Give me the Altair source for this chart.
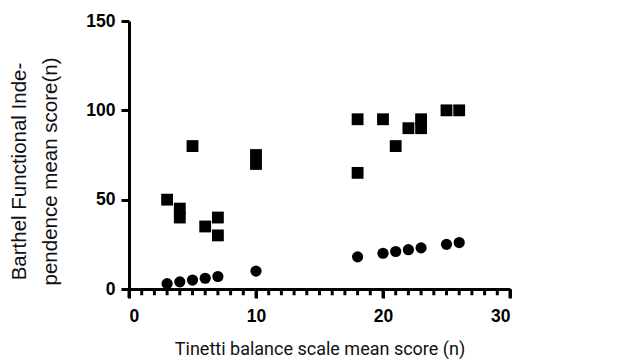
import altair as alt
import pandas as pd

# Barthel Functional Independence (squares)
barthel_x = [3, 4, 4, 5, 6, 7, 7, 10, 10, 18, 18, 20, 21, 22, 23, 23, 25, 26]
barthel_y = [50, 45, 40, 80, 35, 40, 30, 75, 70, 95, 65, 95, 80, 90, 95, 90, 100, 100]

# Tinetti balance (circles)
tinetti_x = [3, 4, 5, 6, 7, 10, 18, 20, 21, 22, 23, 25, 26]
tinetti_y = [3, 4, 5, 6, 7, 10, 18, 20, 21, 22, 23, 25, 26]

x_major = [0, 10, 20, 30]
x_minor = list(range(0, 31))
y_ticks = [0, 50, 100, 150]

df = pd.concat([
    pd.DataFrame({"x": barthel_x, "y": barthel_y, "series": "Barthel"}),
    pd.DataFrame({"x": tinetti_x, "y": tinetti_y, "series": "Tinetti"}),
], ignore_index=True)
minor_df = pd.DataFrame({"x": x_minor,
                         "len": [-5.0 if v % 10 == 0 else -3.5 for v in x_minor]})

xscale = alt.Scale(domain=[0, 30], nice=False)
yscale = alt.Scale(domain=[0, 150], nice=False, clamp=False)

points = alt.Chart(df).mark_point(filled=True, opacity=1, color="black").encode(
    x=alt.X("x:Q", scale=xscale,
            axis=alt.Axis(values=x_major,
                          title="Tinetti balance scale mean score (n)",
                          tickSize=9, labelPadding=9,
                          titleY=51, titleBaseline="top",
                          titleFont="Roboto", titleFontSize=18, titleFontWeight="normal",
                          titleColor="#111")),
    y=alt.Y("y:Q", scale=yscale,
            axis=alt.Axis(values=y_ticks,
                          title=["Barthel Functional Inde-", "pendence mean score(n)"],
                          tickSize=8, labelPadding=6,
                          titleFont="Liberation Sans", titleFontSize=20.5, titleFontWeight="normal",
                          titleLineHeight=31, titleColor="#111",
                          titleX=-100, titleY=150, titleBaseline="bottom")),
    shape=alt.Shape("series:N", scale=alt.Scale(domain=["Barthel", "Tinetti"], range=["square", "circle"]),
                    legend=None),
    size=alt.Size("series:N", scale=alt.Scale(domain=["Barthel", "Tinetti"], range=[140, 125]), legend=None),
)

minor = alt.Chart(minor_df).mark_rule(color="black", strokeWidth=3, clip=False).encode(
    x=alt.X("x:Q", scale=xscale),
    y=alt.Y("len:Q", scale=yscale),
    y2=alt.datum(0),
)

chart = alt.layer(points, minor).properties(
    width=381, height=268,
    autosize=alt.AutoSizeParams(type="none"),
    padding={"left": 121, "top": 13, "right": 40, "bottom": 70},
    background="white",
).configure_view(stroke=None).configure_axis(
    grid=False, domainColor="black", domainWidth=3, tickColor="black", tickWidth=3,
    labelFont="Liberation Sans", labelFontSize=17.5, labelFontWeight="bold", labelColor="#000",
)

chart.save("out.html", embed_options={"renderer": "svg", "actions": False})
